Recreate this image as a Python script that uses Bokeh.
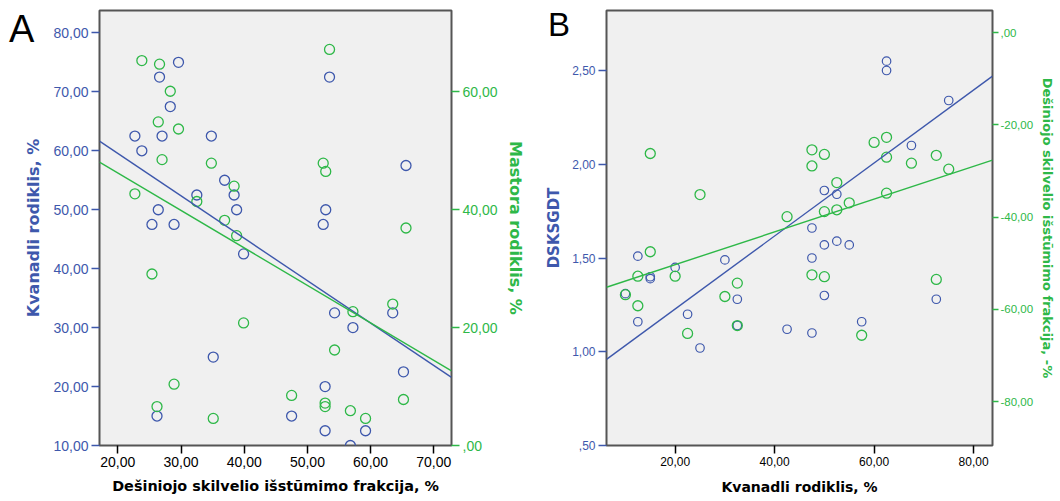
import numpy as np
from bokeh.plotting import figure
from bokeh.models import Range1d, LinearAxis, FixedTicker, CustomJSTickFormatter, Div
from bokeh.layouts import row
from bokeh.embed import file_html
from bokeh.resources import INLINE

# ---- data (one entry per patient) ----
ef = [29.6, 26.6, 28.3, 22.7, 27.0, 23.8, 34.8, 36.9, 32.5, 38.4, 26.4, 38.8, 25.4, 28.9, 39.9,
      35.1, 26.2, 53.5, 65.6, 52.9, 52.5, 54.3, 57.2, 63.5, 65.2, 52.8, 47.5, 52.8, 59.2, 56.8]
kvanadli = [75, 72.5, 67.5, 62.5, 62.5, 60, 62.5, 55, 52.5, 52.5, 50, 50, 47.5, 47.5, 42.5,
            25, 15, 72.5, 57.5, 50, 47.5, 32.5, 30, 32.5, 22.5, 20, 15, 12.5, 12.5, 10]
mastora = [53.7, 64.7, 60.1, 42.7, 48.5, 65.3, 47.9, 38.2, 41.4, 44.0, 54.9, 35.6, 29.1, 10.4, 20.8,
           4.6, 6.6, 67.2, 36.9, 46.5, 47.9, 16.2, 22.7, 24.0, 7.8, 7.2, 8.5, 6.6, 4.6, 5.9]
dsksgdt = [2.34, 1.28, 2.10, 2.55, 2.50, np.nan, np.nan, 1.57, 1.84, 1.59, 1.86, 1.57, 1.66, 1.50, 1.12,
           1.02, 1.40, np.nan, 1.16, 1.30, 1.10, 1.28, 1.49, 1.14, 1.20, 1.45, 1.39, 1.51, 1.16, 1.31]

# total fit line of DSKSGDT on Kvanadli as shown in the picture (intercept, slope)
dsksgdt_fit = [0.839, 0.01946]

a_x_ticks = [20, 30, 40, 50, 60, 70]
a_left_ticks = [10, 20, 30, 40, 50, 60, 70, 80]
a_right_ticks = [0, 20, 40, 60]
b_x_ticks = [20, 40, 60, 80]
b_left_ticks = [0.5, 1.0, 1.5, 2.0, 2.5]
b_right_ticks = [-80, -60, -40, -20, 0]
panel_letters = ["A", "B"]

BLUE = "#3E58AC"
GREEN = "#2EB848"
FRAME = "#555555"
LABEL_FONT = "DejaVu Sans"
TICK_FONT = "Liberation Sans"

FMT = CustomJSTickFormatter(code="""
var s = tick.toFixed(2).replace('.', ',');
if (s.startsWith('0,')) { s = s.substring(1); }
if (s.startsWith('-0,')) { s = '-' + s.substring(2); }
return s;
""")


def style_axis(ax, color, label, label_size, tick_size, ticks, standoff=6, tick_out=8, lab_standoff=3):
    ax.ticker = FixedTicker(ticks=ticks)
    ax.formatter = FMT
    ax.axis_label = label
    ax.axis_label_text_font = LABEL_FONT
    ax.axis_label_text_font_style = "bold"
    ax.axis_label_text_font_size = label_size
    ax.axis_label_text_color = color
    ax.axis_label_standoff = standoff
    ax.major_label_text_font = TICK_FONT
    ax.major_label_text_font_size = tick_size
    ax.major_label_text_color = color
    ax.major_label_standoff = lab_standoff
    ax.major_tick_line_color = color
    ax.major_tick_line_width = 1.5
    ax.major_tick_out = tick_out
    ax.major_tick_in = 0
    ax.minor_tick_line_color = None
    ax.axis_line_color = None


def base_fig(width, xr, yr, mbl, mbr):
    p = figure(width=width, height=498, x_range=xr, y_range=yr,
               output_backend="svg", toolbar_location=None,
               min_border_left=mbl, min_border_right=mbr,
               min_border_top=10, min_border_bottom=53,
               background_fill_color="#F0F0F0", border_fill_color="white")
    p.grid.visible = False
    p.outline_line_color = FRAME
    p.outline_line_width = 2
    return p


def fit_line(p, x, y, color, y_range_name="default", coef=None):
    x = np.asarray(x, float)
    y = np.asarray(y, float)
    if coef is None:
        ok = ~np.isnan(x) & ~np.isnan(y)
        k, b = np.polyfit(x[ok], y[ok], 1)
    else:
        b, k = coef
    xs = np.array([p.x_range.start, p.x_range.end])
    p.line(xs, k * xs + b, line_color=color, line_width=1.4, y_range_name=y_range_name)


# ---------------- Panel A ----------------
pa = base_fig(529, Range1d(17.1, 72.8), Range1d(10, 83.8), 99, 78)
pa.extra_y_ranges = {"r": Range1d(0, 73.8)}
pa.add_layout(LinearAxis(y_range_name="r"), "right")

style_axis(pa.xaxis[0], "black", "Dešiniojo skilvelio išstūmimo frakcija, %", "14.4px", "14px", a_x_ticks,
           standoff=8)
style_axis(pa.yaxis[0], BLUE, "Kvanadli rodiklis, %", "16px", "14px", a_left_ticks, standoff=7)
style_axis(pa.yaxis[1], GREEN, "Mastora rodiklis, %", "16px", "14px", a_right_ticks, standoff=5)

pa.scatter(ef, kvanadli, size=10, marker="circle", fill_color=None, line_color=BLUE, line_width=1.3)
pa.scatter(ef, mastora, size=10, marker="circle", fill_color=None, line_color=GREEN, line_width=1.3,
           y_range_name="r")
fit_line(pa, ef, kvanadli, BLUE)
fit_line(pa, ef, mastora, GREEN, "r")

# ---------------- Panel B ----------------
neg_ef = [-v for v in ef]
pb = base_fig(529, Range1d(6.2, 83.8), Range1d(0.5, 2.82), 77, 62)
pb.extra_y_ranges = {"r": Range1d(-89.5, 4.8)}
pb.add_layout(LinearAxis(y_range_name="r"), "right")

style_axis(pb.xaxis[0], "black", "Kvanadli rodiklis, %", "14px", "12px", b_x_ticks, standoff=10)
style_axis(pb.yaxis[0], BLUE, "DSKSGDT", "15px", "12px", b_left_ticks, standoff=6)
style_axis(pb.yaxis[1], GREEN, "Dešiniojo skilvelio išstūmimo frakcija, -%", "13px", "11.5px",
           b_right_ticks, standoff=4, tick_out=6, lab_standoff=2)

pb.scatter(kvanadli, dsksgdt, size=8.5, marker="circle", fill_color=None, line_color=BLUE, line_width=1.2)
pb.scatter(kvanadli, neg_ef, size=10, marker="circle", fill_color=None, line_color=GREEN, line_width=1.3,
           y_range_name="r")
fit_line(pb, kvanadli, dsksgdt, BLUE, coef=dsksgdt_fit)
fit_line(pb, kvanadli, neg_ef, GREEN, "r")


def letter_div(text, size, left, top):
    return Div(text=f'<span style="font-family: \'Liberation Sans\'; font-size: {size}px; '
                    f'line-height: 1; color: black;">{text}</span>',
               styles={"position": "absolute", "left": f"{left}px", "top": f"{top}px",
                       "margin": "0", "padding": "0", "z-index": "5"})


div_a = letter_div(panel_letters[0], 38, 9, 10)
div_b = letter_div(panel_letters[1], 33, 548, 8)

layout = row(pa, pb, div_a, div_b)
open("out.html", "w").write(file_html(layout, INLINE))
